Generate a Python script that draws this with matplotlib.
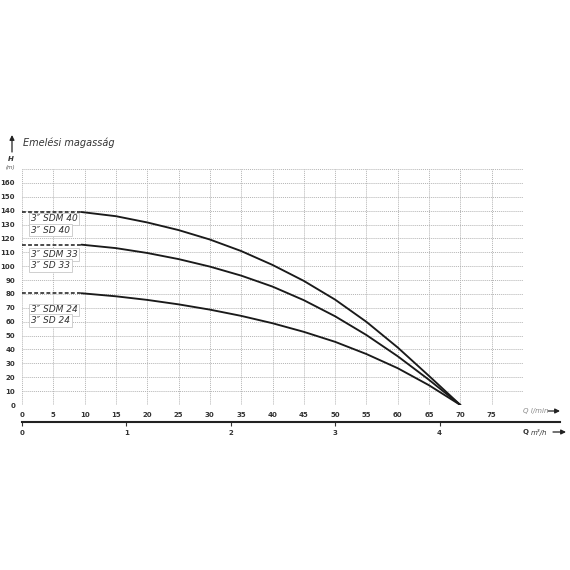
import matplotlib
matplotlib.use("Agg")
import matplotlib.pyplot as plt

# ---- data ----
q_lmin = [9.5, 15, 20, 25, 30, 35, 40, 45, 50, 55, 60, 65, 70]
h_sdm40 = [139, 136, 131.5, 126, 119.2, 110.9, 100.9, 89.4, 75.9, 59.9, 41.4, 20.9, 0]
h_sdm33 = [115.5, 113, 109.5, 105.1, 99.7, 93.2, 85.3, 75.5, 63.9, 50.4, 35.1, 18.1, 0]
h_sdm24 = [80.5, 78.3, 75.7, 72.5, 68.7, 64.2, 58.9, 52.7, 45.5, 36.7, 26.5, 14.2, 0]

labels_40 = ["3\u2033 SDM 40", "3\u2033 SD 40"]
labels_33 = ["3\u2033 SDM 33", "3\u2033 SD 33"]
labels_24 = ["3\u2033 SDM 24", "3\u2033 SD 24"]
label_y = {"40": [134, 126], "33": [108.5, 100.5], "24": [68.5, 61]}

x_ticks = list(range(0, 80, 5))
y_ticks = list(range(0, 170, 10))
q_m3h_ticks = [0, 1, 2, 3, 4]

fig = plt.figure(figsize=(5.7, 5.7), dpi=100)
W = H = 570.0

# main axes: x 0..80 l/min (px 22..523), y 0..170 m (px 405..169)
ax = fig.add_axes([22 / W, 1 - 405 / H, (523 - 22) / W, (405 - 169) / H])
ax.set_xlim(0, 80)
ax.set_ylim(0, 170)
for s in ax.spines.values():
    s.set_visible(False)

grid_kw = dict(color="#b4b4b4", lw=0.7, ls=(0, (1, 1)), zorder=0)
for xv in range(0, 85, 5):
    ax.axvline(xv, **grid_kw)
for yv in range(0, 180, 10):
    ax.axhline(yv, **grid_kw)

ax.set_xticks(x_ticks)
ax.set_yticks(y_ticks)
ax.tick_params(length=0, labelsize=5, colors="#333333", pad=5)
for t in ax.get_xticklabels() + ax.get_yticklabels():
    t.set_fontweight("bold")

curve_kw = dict(color="#1a1a1a", lw=1.35, solid_capstyle="round",
                solid_joinstyle="round", zorder=3)
dash_kw = dict(color="#1a1a1a", lw=1.1, ls=(0, (2.5, 1.5)), zorder=3)
for h in (h_sdm40, h_sdm33, h_sdm24):
    ax.plot(q_lmin, h, **curve_kw)
    ax.plot([0, q_lmin[0]], [h[0], h[0]], **dash_kw)

box = dict(boxstyle="square,pad=0.2", fc="white", ec="#c8c8c8", lw=0.6)
for key, labs in (("40", labels_40), ("33", labels_33), ("24", labels_24)):
    for lab, yv in zip(labs, label_y[key]):
        ax.text(1.4, yv, lab, fontsize=6.5, style="italic", color="#333333",
                va="center", ha="left", bbox=box, zorder=4)

arrow_kw = dict(arrowstyle="-|>", color="#222222", lw=0.9, mutation_scale=7,
                shrinkA=0, shrinkB=0)


def fig_arrow(x0, y0, x1, y1):
    ax.annotate("", xy=(x1 / W, 1 - y1 / H), xytext=(x0 / W, 1 - y0 / H),
                xycoords="figure fraction", textcoords="figure fraction",
                arrowprops=arrow_kw, annotation_clip=False)


fig.text(523 / W, 1 - 411 / H, "Q l/min", fontsize=5, style="italic",
         color="#888888", ha="left", va="center")
fig_arrow(548, 411, 560, 411)

# secondary axis in m3/h
ext = (560 - 22) / (523 - 22)
ax2 = fig.add_axes([22 / W, 1 - 422 / H, (560 - 22) / W, 0.001])
ax2.set_xlim(0, 80 * 60 / 1000 * ext)
ax2.set_yticks([])
for side in ("top", "left", "right"):
    ax2.spines[side].set_visible(False)
ax2.spines["bottom"].set_linewidth(1.5)
ax2.spines["bottom"].set_color("#222222")
ax2.patch.set_visible(False)
ax2.set_xticks(q_m3h_ticks)
ax2.tick_params(direction="out", length=3, width=0.8, labelsize=5,
                colors="#333333", pad=3)
for t in ax2.get_xticklabels():
    t.set_fontweight("bold")

fig.text(523 / W, 1 - 432 / H, "Q", fontsize=5, fontweight="bold",
         color="#333333", ha="left", va="center")
fig.text(531 / W, 1 - 432 / H, "m\u00b3/h", fontsize=5, style="italic",
         color="#333333", ha="left", va="center")
fig_arrow(553, 432, 566, 432)

# y-axis heading
fig_arrow(12, 152, 12, 135)
fig.text(23 / W, 1 - 143 / H, "Emelési magasság", fontsize=7, style="italic",
         color="#333333", ha="left", va="center")
fig.text(11 / W, 1 - 159 / H, "H", fontsize=5, style="italic",
         fontweight="bold", color="#333333", ha="center", va="center")
fig.text(10 / W, 1 - 167 / H, "(m)", fontsize=4, style="italic",
         color="#555555", ha="center", va="center")

fig.savefig("out.png", dpi=100, facecolor="white")
